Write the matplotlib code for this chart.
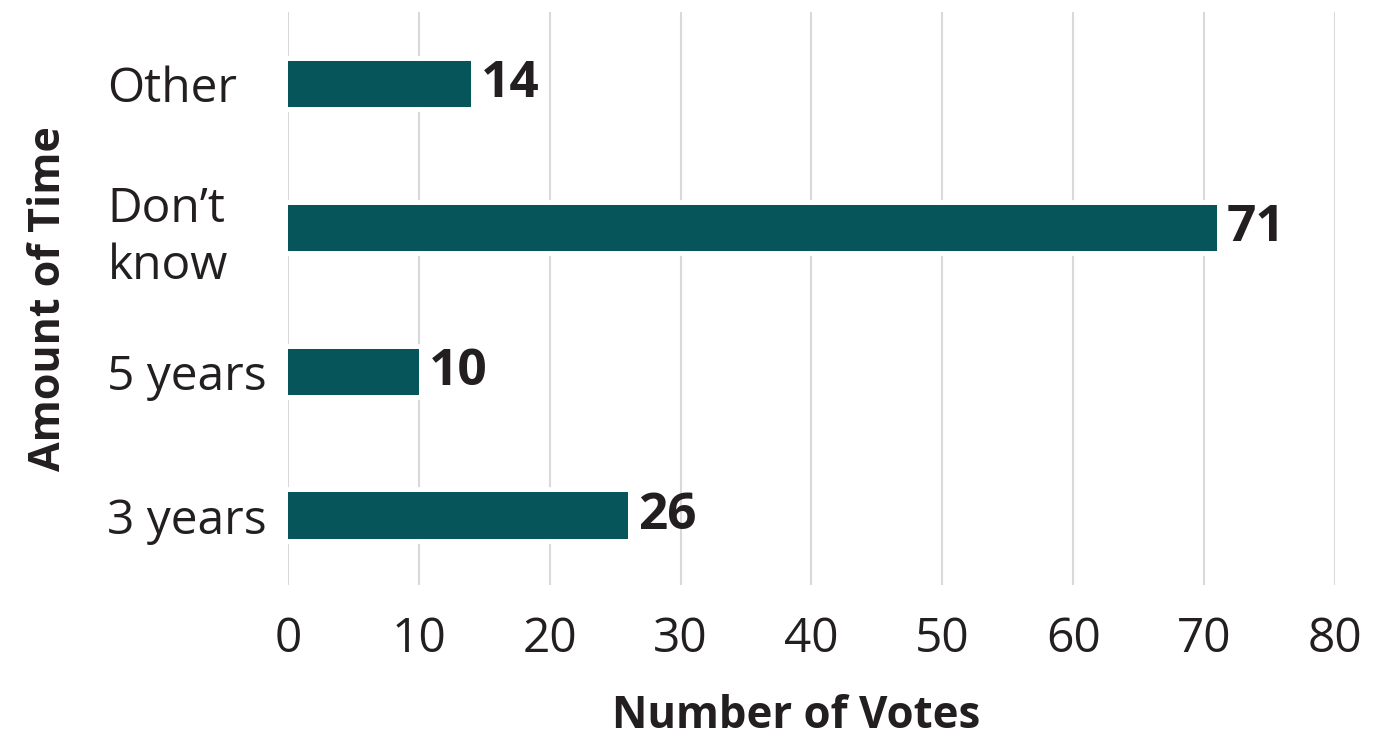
import matplotlib.pyplot as plt

plt.rcParams['font.family'] = ['Open Sans', 'DejaVu Sans']

# data
categories = ["3 years", "5 years", "Don\u2019t\nknow", "Other"]
votes = [26, 10, 71, 14]
x_ticks = [0, 10, 20, 30, 40, 50, 60, 70, 80]

bar_color = "#06555a"
text_color = "#231f20"

fig = plt.figure(figsize=(13.79, 7.39), dpi=100)
ax = fig.add_axes([0.2088, 0.2084, 0.7592, 0.7754])

pos = list(range(len(categories)))
# white halo behind the bars so grid lines break around them
ax.barh(pos, votes, height=0.325, color="white", edgecolor="white",
        linewidth=7, zorder=2)
bars = ax.barh(pos, votes, height=0.325, color=bar_color, zorder=3)

for b, v in zip(bars, votes):
    ax.annotate(str(v), (b.get_width(), b.get_y() + b.get_height() / 2),
                xytext=(7, 0), textcoords="offset points",
                ha="left", va="center", fontsize=37, fontweight="bold",
                color=text_color)

ax.set_xlim(0, 80)
ax.set_ylim(-0.48, 3.50)
ax.set_xticks(x_ticks)
ax.set_yticks(pos)
ax.set_yticklabels(categories, ha="left", linespacing=1.25)
ax.tick_params(axis="y", length=0, pad=130, labelsize=34.5, labelcolor=text_color)
ax.tick_params(axis="x", length=0, pad=22, labelsize=34.5, labelcolor=text_color)

ax.xaxis.grid(True, color="#d9d9d9", linewidth=1.5, zorder=0)
ax.set_axisbelow(True)
for s in ax.spines.values():
    s.set_visible(False)

ax.set_xlabel("Number of Votes", fontsize=31.5, fontweight="bold", color=text_color)
ax.xaxis.set_label_coords(0.485, -0.23)
ax.set_ylabel("Amount of Time", fontsize=31, fontweight="bold", color=text_color)
ax.yaxis.set_label_coords(-0.229, 0.5)
ax.xaxis.label.set_va("center")
ax.yaxis.label.set_va("center")

fig.savefig("out.png", dpi=100)
